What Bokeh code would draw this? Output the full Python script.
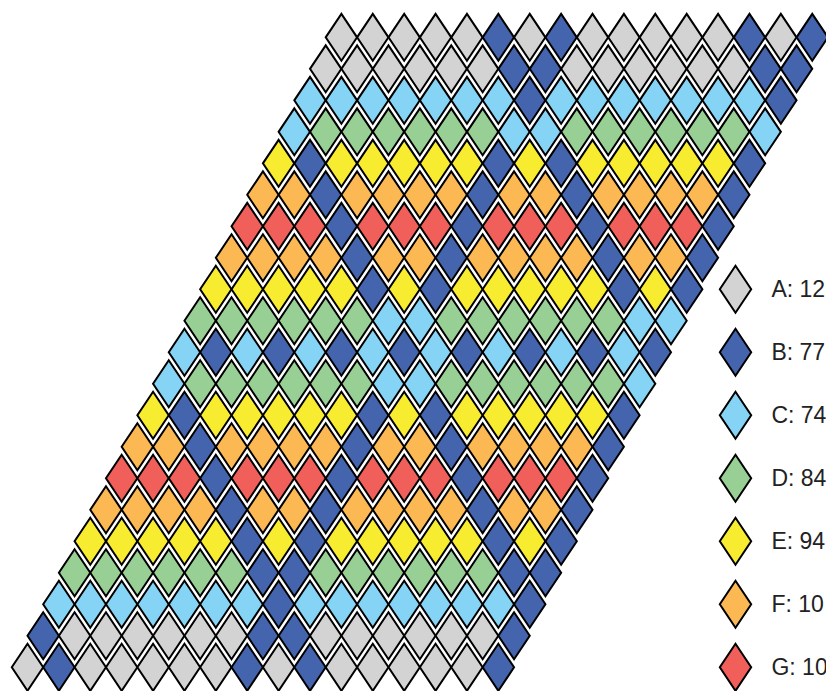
from bokeh.plotting import figure
from bokeh.models import Range1d
from bokeh.embed import file_html
from bokeh.resources import INLINE
from bokeh.core.properties import value

# Categories, legend labels and colours
categories = ["A", "B", "C", "D", "E", "F", "G"]
legend_labels = ["A: 12", "B: 77", "C: 74", "D: 84", "E: 94", "F: 10", "G: 10"]
colors = ["#D3D3D3", "#4464AD", "#85D4F5", "#98CF94", "#F8EC31", "#FCB953", "#F15F5B"]

# Diamond pattern, bottom row first (one letter per cell)
pattern_rows = [
    "ABAAAAABABAAAAAB",
    "BAAAAAABBAAAAAAB",
    "CCCCCCCBCCCCCCCB",
    "DDDDDDBBDDDDDDBB",
    "EEEEEBEBEEEEEBEB",
    "FFFFBFFBFFFFBFFB",
    "GGGBGGGBGGGBGGGB",
    "FFBFFFFBFFBFFFFB",
    "EBEEEEEBEBEEEEEB",
    "CDDDDDDCCDDDDDDC",
    "CBCBCBCBCBCBCBCB",
    "DDDDDDCCDDDDDDCC",
    "EEEEEBEBEEEEEBEB",
    "FFFFBFFBFFFFBFFB",
    "GGGBGGGBGGGBGGGB",
    "FFBFFFFBFFBFFFFB",
    "EBEEEEEBEBEEEEEB",
    "CDDDDDDCCDDDDDDC",
    "CCCCCCCBCCCCCCCB",
    "AAAAAABBAAAAAABB",
    "AAAAABABAAAAABAB",
]
legend_rows = [12, 10, 8, 6, 4, 2, 0]

HW, HH = 0.5, 0.746  # half width / half height of a diamond in data units


def diamond(cx, cy):
    return [cx, cx + HW, cx, cx - HW], [cy + HH, cy, cy - HH, cy]


pxs, pys, fills = [], [], []
for r, row in enumerate(pattern_rows):
    for c, cat in enumerate(row):
        dx, dy = diamond(c + r / 2, r)
        pxs.append(dx)
        pys.append(dy)
        fills.append(colors[categories.index(cat)])

p = figure(width=826, height=691, output_backend="svg", toolbar_location=None,
           x_range=Range1d(-0.860, 25.454), y_range=Range1d(-0.768, 21.169),
           x_axis_location=None, y_axis_location=None, min_border=0)
p.grid.visible = False
p.outline_line_color = None
p.background_fill_color = "white"

p.patches(xs=pxs, ys=pys, fill_color=fills, line_color="black", line_width=2,
          line_join="miter")

# legend
lx = 22.555
lxs, lys = [], []
for yy in legend_rows:
    dx, dy = diamond(lx, yy)
    lxs.append(dx)
    lys.append(dy)
p.patches(xs=lxs, ys=lys, fill_color=colors, line_color="black", line_width=2,
          line_join="miter")
p.text(x=[lx + 1.145] * len(categories), y=legend_rows, text=legend_labels,
       text_font=value("Liberation Sans"), text_font_size="23px",
       text_color="#222222", text_baseline="middle", text_align="left")

open("out.html", "w").write(file_html(p, INLINE))
